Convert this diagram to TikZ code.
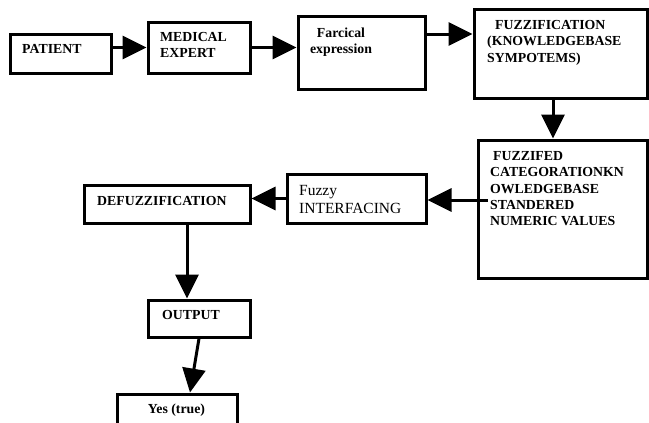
\documentclass[tikz,border=0pt]{standalone}
\usepackage{fontspec}
\setmainfont{Liberation Serif}
\usetikzlibrary{arrows.meta,calc}
\begin{document}
\begin{tikzpicture}[x=1pt,y=-1pt,
  box/.style={draw, line width=3pt, rectangle, inner sep=0pt},
  lbl/.style={inner sep=0pt, anchor=north west, align=left, font=\fontsize{13.8}{16.2}\selectfont\bfseries},
  arr/.style={line width=3pt, -{Triangle[length=24pt,width=23pt]}}]
\useasboundingbox (0,0) rectangle (649,423);
% boxes
\node[box, minimum width=101pt, minimum height=39pt] (patient) at (60.5,53.5) {};
\node[box, minimum width=102pt, minimum height=51pt] (medical) at (199,47.5) {};
\node[box, minimum width=127pt, minimum height=73pt] (farc) at (361.5,52.5) {};
\node[box, minimum width=173pt, minimum height=89pt] (fuzz) at (560.5,53.5) {};
\node[box, minimum width=169pt, minimum height=138pt] (fzd) at (562.5,209) {};
\node[box, minimum width=139pt, minimum height=49pt] (fuzzy) at (356.5,198.5) {};
\node[box, minimum width=166pt, minimum height=38pt] (defuzz) at (167,204) {};
\node[box, minimum width=102pt, minimum height=37pt] (output) at (199,318.5) {};
\node[box, minimum width=120pt, minimum height=40pt] (yes) at (177,414) {};
% texts
\node[lbl] (tpatient) at (22,44.4) {PATIENT};
\node[lbl] (tmedical) at (160,32.4) {MEDICAL\\EXPERT};
\node[lbl, anchor=north, align=center] (tfarc) at (341,27.4) {Farcical\\expression};
\node[lbl] (tfuzz) at (487,20.4) {\hspace*{8pt}FUZZIFICATION\\(KNOWLEDGEBASE\\SYMPOTEMS)};
\node[lbl, font=\fontsize{13.8}{16.25}\selectfont\bfseries] (tfzd) at (490,151.4) {\hspace*{3pt}FUZZIFED\\CATEGORATIONKN\\OWLEDGEBASE\\STANDERED\\NUMERIC VALUES};
\node[lbl, font=\fontsize{15.5}{17.8}\selectfont] (tfuzzy) at (299,185) {Fuzzy\\INTERFACING};
\node[lbl] (tdefuzz) at (97,196.4) {DEFUZZIFICATION};
\node[lbl] (toutput) at (162,310.4) {OUTPUT};
\node[lbl, anchor=north, align=center] (tyes) at (176.5,403.5) {Yes (true)};
% connectors
\coordinate (s3) at ([yshift=18.5pt]farc.east);
\coordinate (s4) at ([xshift=-7.5pt]fuzz.south);
\coordinate (s5) at ($(fzd.west)+(11,-9)$);
\coordinate (s7) at ([xshift=20pt]defuzz.south);
\coordinate (e8) at ([xshift=13pt]yes.north);
\draw[arr] (patient.east |- medical.west) -- (medical.west);
\draw[arr] (medical.east) -- (medical.east -| farc.west);
\draw[arr] (s3) -- (s3 -| fuzz.west);
\draw[arr] (s4) -- (s4 |- fzd.north);
\draw[arr] (s5) -- (s5 -| fuzzy.east);
\draw[arr] (fuzzy.west) -- (fuzzy.west -| defuzz.east);
\draw[arr] (s7) -- (s7 |- output.north);
\draw[arr] (output.south) -- (e8);
\end{tikzpicture}
\end{document}
